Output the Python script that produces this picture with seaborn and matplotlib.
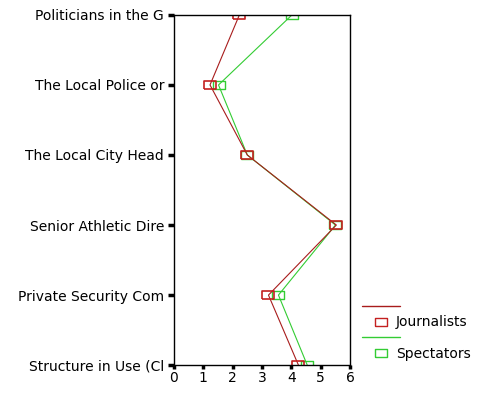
import matplotlib
matplotlib.use("Agg")
import matplotlib.pyplot as plt
import seaborn as sns
import pandas as pd
from matplotlib.lines import Line2D

categories = ["Politicians in the G", "The Local Police or", "The Local City Head",
              "Senior Athletic Dire", "Private Security Com", "Structure in Use (Cl"]
journalists = [2.23, 1.23, 2.50, 5.53, 3.22, 4.24]
spectators = [4.02, 1.52, 2.50, 5.50, 3.56, 4.54]
series_names = ["Journalists", "Spectators"]
x_ticks = [0, 1, 2, 3, 4, 5, 6]

RED_LINE = "#a81c1c"
RED = "#c42020"
GREEN = "#33cc33"

df = pd.DataFrame({
    "category": categories * 2,
    "value": journalists + spectators,
    "group": [series_names[0]] * len(categories) + [series_names[1]] * len(categories),
})
df["category"] = pd.Categorical(df["category"], categories=categories, ordered=True)

sns.set_style("white")
plt.rcParams["font.family"] = ["DejaVu Sans"]
plt.rcParams["text.color"] = "black"
plt.rcParams["xtick.color"] = "black"
plt.rcParams["ytick.color"] = "black"

fig = plt.figure(figsize=(4.87, 4.03), dpi=100)
ax = fig.add_axes([0.357, 0.094, 0.362, 0.869])

rect = [(-1, -0.7), (1, -0.7), (1, 0.7), (-1, 0.7), (-1, -0.7)]
line_col = {series_names[0]: RED_LINE, series_names[1]: GREEN}
mark_col = {series_names[0]: RED, series_names[1]: GREEN}
mew = {series_names[0]: 1.2, series_names[1]: 1.0}
for name in [series_names[1], series_names[0]]:
    sub = df[df["group"] == name]
    sns.lineplot(data=sub, x="value", y="category", orient="y", sort=False,
                 color=line_col[name], linewidth=0.8, marker=rect, markersize=8,
                 markerfacecolor="none", markeredgecolor=mark_col[name],
                 markeredgewidth=mew[name], ax=ax, legend=False)

ax.set_xlim(0, 6)
ax.set_ylim(len(categories) - 1, 0)
ax.set_xticks(x_ticks)
ax.set_xticklabels([str(t) for t in x_ticks])
ax.set_yticks(range(len(categories)))
ax.set_yticklabels(categories)
ax.set_xlabel("")
ax.set_ylabel("")
for s in ax.spines.values():
    s.set_visible(True)
    s.set_color("black")
    s.set_linewidth(1.0)
ax.tick_params(axis="y", which="major", direction="out", length=4, width=2.5,
               color="black", labelcolor="black", labelsize=10, pad=3, left=True)
ax.tick_params(axis="x", which="major", direction="out", length=3, width=2.5,
               color="black", labelcolor="black", labelsize=10, pad=1, bottom=True)

handles = [
    Line2D([], [], color=RED_LINE, linewidth=1.0),
    Line2D([], [], linestyle="none", marker=rect, markersize=8,
           markerfacecolor="none", markeredgecolor=RED, markeredgewidth=1.0),
    Line2D([], [], color=GREEN, linewidth=1.0),
    Line2D([], [], linestyle="none", marker=rect, markersize=8,
           markerfacecolor="none", markeredgecolor=GREEN, markeredgewidth=1.0),
]
labels = ["", series_names[0], "", series_names[1]]
fig.legend(handles, labels, loc="upper left", bbox_to_anchor=(0.732, 0.27),
           frameon=False, handlelength=2.73, handletextpad=-0.29,
           labelspacing=0.12, fontsize=10, borderaxespad=0, labelcolor="black")

fig.savefig("out.png", dpi=100)
